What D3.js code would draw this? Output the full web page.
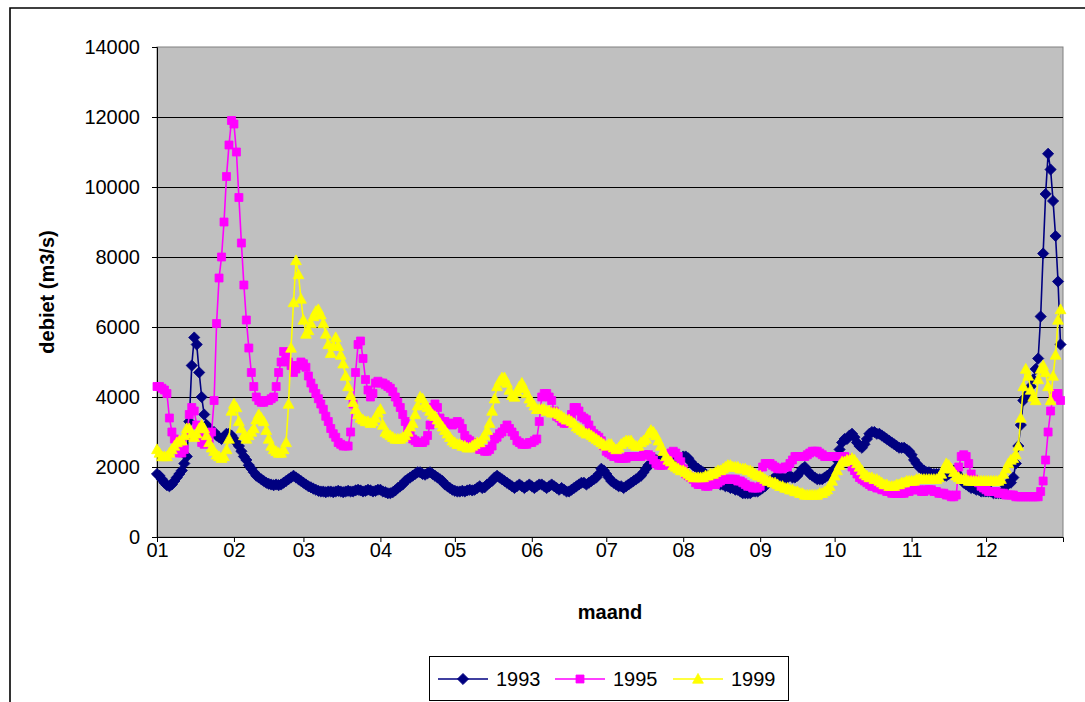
<!DOCTYPE html>
<html>
<head>
<meta charset="utf-8">
<script src="https://cdn.jsdelivr.net/npm/d3@7"></script>
<style>
  html, body { margin: 0; padding: 0; background: #ffffff; }
  svg { display: block; }
  text { font-family: "Liberation Sans", Arial, sans-serif; }
</style>
</head>
<body>
<svg id="chart" width="1085" height="702"></svg>
<script>
// ---------- DATA ----------
const monthStarts = [1, 32, 60, 91, 121, 152, 182, 213, 244, 274, 305, 335];
const monthLabels = ["01", "02", "03", "04", "05", "06", "07", "08", "09", "10", "11", "12"];
const yTicks = [0, 2000, 4000, 6000, 8000, 10000, 12000, 14000];
const seriesNames = ["1993", "1995", "1999"];

// daily discharge (m3/s), day 1..365
const q1993 = [
1800,1750,1650,1550,1480,1450,1500,1600,1700,1800,
1900,2100,2300,3300,4900,5700,5500,4700,4000,3500,
3200,3100,3000,3000,2900,2850,2800,2850,2950,2950,
2900,2800,2700,2600,2450,2300,2200,2050,1950,1850,
1750,1700,1650,1600,1550,1520,1500,1480,1500,1480,
1500,1550,1600,1650,1700,1750,1700,1650,1600,1550,
1500,1450,1420,1380,1350,1320,1300,1300,1280,1300,
1300,1280,1300,1320,1300,1280,1300,1320,1300,1300,
1330,1350,1330,1300,1320,1350,1330,1300,1320,1350,
1350,1300,1280,1250,1250,1280,1330,1400,1450,1500,
1600,1650,1700,1750,1800,1850,1850,1800,1780,1820,
1850,1800,1750,1700,1650,1600,1500,1450,1400,1350,
1320,1300,1300,1320,1300,1330,1350,1330,1350,1400,
1450,1400,1420,1500,1550,1600,1700,1750,1700,1650,
1600,1550,1500,1450,1400,1450,1500,1450,1400,1450,
1500,1450,1400,1450,1500,1500,1450,1400,1450,1500,
1450,1400,1350,1400,1350,1300,1300,1350,1400,1450,
1500,1550,1550,1500,1550,1600,1650,1700,1800,1950,
1900,1800,1700,1600,1550,1500,1450,1450,1400,1450,
1500,1550,1600,1650,1700,1750,1850,1950,2050,2100,
2150,2200,2200,2200,2200,2150,2150,2150,2200,2200,
2250,2250,2300,2300,2250,2150,2050,2000,1950,1900,
1850,1800,1750,1700,1650,1600,1550,1500,1500,1450,
1450,1400,1400,1350,1350,1300,1250,1250,1250,1250,
1300,1300,1300,1350,1400,1450,1550,1600,1650,1700,
1700,1700,1700,1650,1700,1750,1700,1700,1750,1850,
1950,2000,1900,1800,1750,1700,1650,1650,1650,1700,
1750,1800,1850,1950,2200,2500,2700,2800,2800,2900,
2950,2850,2700,2600,2550,2650,2800,2950,3000,3000,
2950,2950,2900,2850,2800,2750,2700,2650,2600,2550,
2550,2550,2500,2450,2350,2200,2100,2000,1950,1900,
1850,1850,1800,1800,1800,1800,1750,1750,1750,1800,
1850,1900,1850,1750,1650,1550,1500,1450,1400,1400,
1350,1350,1300,1300,1300,1300,1300,1250,1250,1250,
1250,1300,1450,1550,1550,1700,2100,2600,3200,3900,
4000,4100,4300,4500,4800,5100,6300,8100,9800,10950,
10500,9600,8600,7300,5500
];

const q1995 = [
4300,4300,4250,4200,4100,3400,3000,2800,2500,2400,
2400,2500,2900,3500,3700,3600,3200,2900,2700,2650,
2700,2800,3000,3900,6100,7400,8000,9000,10300,11200,
11900,11800,11000,9700,8400,7200,6200,5400,4700,4300,
4000,3900,3850,3850,3900,3900,3950,4000,4300,4700,
5000,5300,5200,5000,4900,4700,4800,4900,5000,4950,
4850,4600,4400,4250,4100,3950,3800,3650,3450,3300,
3100,2950,2850,2700,2650,2600,2600,2600,3000,3800,
4700,5500,5600,5100,4500,4200,4000,4100,4400,4450,
4400,4400,4350,4300,4250,4150,4000,3850,3700,3500,
3300,3100,2900,2800,2750,2700,2700,2700,2750,2900,
3200,3700,3800,3700,3400,3300,3300,3250,3250,3200,
3250,3300,3250,3100,2900,2800,2750,2700,2600,2550,
2500,2500,2450,2450,2500,2600,2800,2850,2950,3000,
3100,3200,3100,3000,2900,2750,2700,2650,2650,2650,
2700,2700,2750,2800,3300,4000,4100,4100,4000,3900,
3600,3450,3400,3300,3250,3250,3300,3500,3700,3700,
3600,3450,3400,3350,3200,3050,2950,2900,2850,2750,
2600,2450,2400,2350,2300,2300,2250,2250,2250,2250,
2300,2300,2300,2300,2300,2300,2350,2350,2350,2300,
2200,2100,2050,2050,2050,2100,2250,2400,2450,2400,
2300,2150,1950,1800,1750,1700,1650,1550,1500,1500,
1500,1450,1450,1500,1500,1500,1550,1600,1650,1650,
1650,1650,1650,1650,1600,1600,1550,1500,1450,1450,
1400,1400,1400,1450,2000,2100,2100,2100,2050,2000,
1950,1950,1950,2000,2000,2100,2200,2300,2300,2300,
2300,2300,2350,2400,2450,2450,2450,2400,2350,2300,
2300,2300,2300,2300,2300,2300,2300,2300,2250,2150,
2000,1900,1800,1700,1650,1600,1550,1500,1450,1450,
1400,1400,1350,1350,1300,1300,1250,1250,1250,1250,
1250,1250,1300,1300,1350,1350,1350,1350,1300,1300,
1350,1350,1350,1300,1300,1250,1250,1250,1200,1200,
1150,1150,1200,2000,2300,2350,2300,2100,1800,1650,
1600,1550,1450,1400,1350,1300,1300,1300,1300,1250,
1250,1250,1200,1200,1200,1200,1150,1150,1150,1150,
1150,1150,1150,1150,1150,1150,1300,1600,2200,3000,
3600,4000,4100,4100,3900
];

const q1999 = [
2500,2400,2300,2300,2300,2400,2500,2600,2700,2750,
2750,2900,3100,3100,2950,2850,2950,3100,3200,3100,
2900,2700,2550,2450,2350,2300,2250,2300,2500,2800,
3600,3800,3700,3300,3100,2900,2800,2900,3000,3100,
3350,3500,3400,3300,3050,2800,2600,2500,2450,2400,
2400,2500,2700,3800,5400,6700,7900,7500,6800,6200,
5800,5900,6100,6300,6450,6500,6350,6100,5800,5500,
5250,5450,5700,5450,5200,4950,4600,4300,4050,3850,
3650,3500,3400,3350,3300,3300,3250,3300,3400,3550,
3650,3200,3000,2950,2900,2850,2800,2800,2800,2850,
2900,3000,3150,3250,3500,3750,4000,3950,3800,3700,
3600,3500,3450,3350,3250,3150,3050,2950,2850,2750,
2700,2650,2650,2600,2600,2550,2550,2600,2650,2700,
2700,2800,2900,3050,3250,3600,3950,4300,4450,4550,
4550,4400,4200,4050,4000,4150,4300,4400,4250,4100,
3950,3850,3750,3650,3650,3650,3650,3600,3600,3550,
3550,3550,3500,3450,3400,3350,3350,3300,3250,3150,
3100,3050,3000,2950,2950,2900,2850,2800,2750,2700,
2650,2600,2650,2650,2550,2500,2550,2650,2700,2750,
2750,2750,2650,2600,2600,2700,2750,2800,2950,3050,
3000,2900,2750,2600,2450,2300,2200,2150,2050,2000,
1950,1900,1900,1850,1800,1750,1700,1700,1700,1700,
1700,1750,1750,1800,1800,1850,1900,1900,1950,2000,
2050,2050,2000,2000,2000,1950,1950,1950,1900,1900,
1850,1800,1750,1750,1700,1650,1600,1600,1550,1550,
1500,1450,1450,1400,1400,1350,1350,1300,1300,1250,
1250,1200,1200,1200,1200,1200,1200,1250,1250,1300,
1350,1450,1600,1750,1900,2050,2150,2150,2200,2200,
2250,2200,2100,2000,1900,1800,1750,1700,1700,1650,
1650,1600,1550,1500,1500,1450,1450,1450,1500,1500,
1550,1550,1600,1600,1600,1600,1650,1650,1650,1650,
1650,1650,1650,1650,1650,1700,1800,1950,2100,2050,
1950,1850,1750,1700,1650,1650,1650,1600,1600,1600,
1600,1600,1600,1600,1600,1600,1600,1600,1600,1600,
1650,1800,1950,2100,2200,2250,2350,2600,3400,4300,
4800,4600,4200,4000,3900,4500,4800,4900,4700,4300,
3900,4600,5200,6200,6500
];

const seriesValues = [q1993, q1995, q1999];
const seriesColors = ["#000080", "#FF00FF", "#FFFF00"];
const seriesMarkers = ["diamond", "square", "triangle"];

// ---------- LAYOUT ----------
const svg = d3.select("#chart");
const plot = { left: 157, right: 1063, top: 47, bottom: 537 };

const x = d3.scaleLinear().domain([1, 366]).range([plot.left, plot.right]);
const y = d3.scaleLinear().domain([0, 14000]).range([plot.bottom, plot.top]);

// outer chart frame (top and left edges visible)
svg.append("path")
  .attr("d", "M10,702 L10,8 L1085,8")
  .attr("fill", "none").attr("stroke", "#000").attr("stroke-width", 1.6);

// plot area
svg.append("rect")
  .attr("x", plot.left).attr("y", plot.top)
  .attr("width", plot.right - plot.left).attr("height", plot.bottom - plot.top)
  .attr("fill", "#C0C0C0").attr("stroke", "#808080").attr("stroke-width", 1);

// gridlines
svg.append("g").selectAll("line")
  .data(yTicks.filter(v => v > 0 && v < 14000))
  .join("line")
  .attr("x1", plot.left).attr("x2", plot.right)
  .attr("y1", d => Math.round(y(d)) + 0.5).attr("y2", d => Math.round(y(d)) + 0.5)
  .attr("stroke", "#000").attr("stroke-width", 1);

// axes
const yAxis = d3.axisLeft(y).tickValues(yTicks).tickSize(5).tickPadding(12).tickFormat(d3.format("d"));
const gy = svg.append("g").attr("transform", `translate(${plot.left},0)`).call(yAxis);
gy.selectAll("text").attr("font-size", "20px").attr("fill", "#000")
  .attr("font-family", "'Liberation Sans', Arial, sans-serif");
gy.selectAll("line, path").attr("stroke", "#000");

const xAxis = d3.axisBottom(x).tickValues(monthStarts).tickSize(5).tickPadding(1)
  .tickFormat((d, i) => monthLabels[i]);
const gx = svg.append("g").attr("transform", `translate(0,${plot.bottom})`).call(xAxis);
gx.selectAll("text").attr("font-size", "20px").attr("fill", "#000")
  .attr("font-family", "'Liberation Sans', Arial, sans-serif");
gx.selectAll("line, path").attr("stroke", "#000");

// axis titles
svg.append("text")
  .attr("x", (plot.left + plot.right) / 2).attr("y", 619)
  .attr("text-anchor", "middle").attr("font-size", "20px").attr("font-weight", "bold")
  .text("maand");
svg.append("text")
  .attr("transform", `translate(54,${(plot.top + plot.bottom) / 2}) rotate(-90)`)
  .attr("text-anchor", "middle").attr("font-size", "20px").attr("font-weight", "bold")
  .text("debiet (m3/s)");

// marker shapes
function markerPath(type) {
  if (type === "diamond") return "M0,-5.6 L5.6,0 L0,5.6 L-5.6,0 Z";
  if (type === "square") return "M-4,-4 L4,-4 L4,4 L-4,4 Z";
  return "M0,-5.6 L5.4,4.2 L-5.4,4.2 Z";
}

// series
const line = d3.line().x((d, i) => x(i + 1)).y(d => y(d));
seriesValues.forEach((vals, s) => {
  const g = svg.append("g");
  g.append("path").datum(vals)
    .attr("d", line).attr("fill", "none")
    .attr("stroke", seriesColors[s]).attr("stroke-width", 1.6);
  g.selectAll("path.m").data(vals).join("path")
    .attr("class", "m")
    .attr("transform", (d, i) => `translate(${x(i + 1)},${y(d)})`)
    .attr("d", markerPath(seriesMarkers[s]))
    .attr("fill", seriesColors[s]).attr("stroke", seriesColors[s]).attr("stroke-width", 0.8);
});

// legend
const lg = svg.append("g");
lg.append("rect").attr("x", 429.5).attr("y", 656.5).attr("width", 359).attr("height", 44)
  .attr("fill", "#fff").attr("stroke", "#000").attr("stroke-width", 1);
const legendX = [438, 555, 673];
seriesNames.forEach((name, s) => {
  const lx = legendX[s], ly = 679;
  lg.append("line").attr("x1", lx).attr("x2", lx + 50).attr("y1", ly).attr("y2", ly)
    .attr("stroke", seriesColors[s]).attr("stroke-width", 1.6);
  lg.append("path").attr("transform", `translate(${lx + 25},${ly})`)
    .attr("d", markerPath(seriesMarkers[s]))
    .attr("fill", seriesColors[s]).attr("stroke", seriesColors[s]).attr("stroke-width", 0.8);
  lg.append("text").attr("x", lx + 58).attr("y", ly).attr("dy", "0.36em")
    .attr("font-size", "20px").attr("fill", "#000").text(name);
});
</script>
</body>
</html>
